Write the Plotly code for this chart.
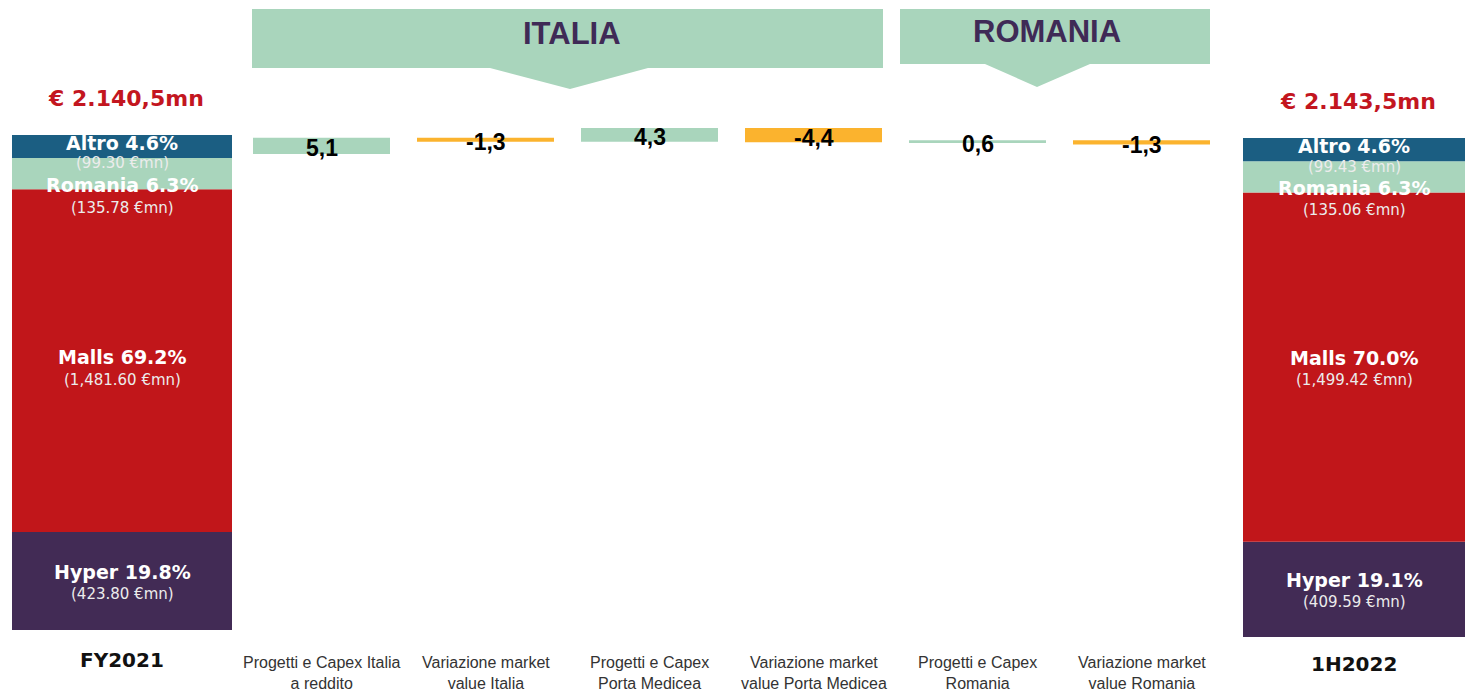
import numpy as np
import plotly.graph_objects as go

# ---------------- data ----------------
SEGMENTS = ["Hyper", "Malls", "Romania", "Altro"]
FY2021_VALUES = [423.80, 1481.60, 135.78, 99.30]
H1_2022_VALUES = [409.59, 1499.42, 135.06, 99.43]
END_CATEGORIES = ["FY2021", "1H2022"]
TOTAL_LABELS = ["€ 2.140,5mn", "€ 2.143,5mn"]
BRIDGE_CATEGORIES = [
    "Progetti e Capex Italia<br>a reddito",
    "Variazione market<br>value Italia",
    "Progetti e Capex<br>Porta Medicea",
    "Variazione market<br>value Porta Medicea",
    "Progetti e Capex<br>Romania",
    "Variazione market<br>value Romania",
]
BRIDGE_VALUES = [5.1, -1.3, 4.3, -4.4, 0.6, -1.3]
GROUP_LABELS = ["ITALIA", "ROMANIA"]

# ---------------- layout / style ----------------
W, H = 1465, 691
END_X = [122, 1354]
END_W = [220, 222]
BRIDGE_X = [321.5, 485.5, 649.5, 813.5, 977.5, 1141.5]
BRIDGE_W = 137
SEG_COLORS = ["#422b55", "#c1161a", "#a9d5bc", "#1b5e82"]
GREEN = "#a9d5bc"
ORANGE = "#fbb32e"
RED_TXT = "#c3161f"
PURPLE_TXT = "#3f2a56"
# label offsets (px) per segment: (name shift, value shift)
LABEL_SHIFTS = [
    [(9, -13), (3.5, -19.5), (-11, -34), (3, -17)],
    [(9, -13), (9.5, -12.5), (-11, -33), (4, -17)],
]


def axis_range(p0, v0, p1, v1):
    """range so that pixel p0 shows value v0 and p1 shows v1 (plot = full height)"""
    upp = (v1 - v0) / (p0 - p1)
    return [v0 - (H - p0) * upp, v0 + p0 * upp]


def paper_y(py):
    return 1 - py / H


fig = go.Figure()

end_data = [FY2021_VALUES, H1_2022_VALUES]
end_axes = ["y", "y2"]
annotations = []

for side, vals in enumerate(end_data):
    vals = np.array(vals)
    total = vals.sum()
    bases = np.concatenate([[0], np.cumsum(vals)[:-1]])
    for i, seg in enumerate(SEGMENTS):
        fig.add_trace(go.Bar(
            x=[END_X[side]], y=[vals[i]], base=[bases[i]], width=[END_W[side]],
            marker=dict(color=SEG_COLORS[i], line=dict(width=0)),
            yaxis=end_axes[side], hoverinfo="skip", showlegend=False,
        ))
        mid = bases[i] + vals[i] / 2
        pct = vals[i] / total * 100
        s_name, s_val = LABEL_SHIFTS[side][i]
        annotations.append(dict(
            x=END_X[side], y=mid, xref="x", yref=end_axes[side],
            text=f"<b>{seg} {pct:.1f}%</b>", showarrow=False, yshift=s_name,
            font=dict(family="DejaVu Sans", size=19, color="white"),
        ))
        annotations.append(dict(
            x=END_X[side], y=mid, xref="x", yref=end_axes[side],
            text=f"({vals[i]:,.2f} €mn)", showarrow=False, yshift=s_val,
            font=dict(family="DejaVu Sans", size=15, color="#ececec"),
        ))
    annotations.append(dict(
        x=END_X[side] + 4, y=total, xref="x", yref=end_axes[side],
        text=f"<b>{TOTAL_LABELS[side]}</b>", showarrow=False, yshift=37,
        font=dict(family="DejaVu Sans", size=22, color=RED_TXT),
    ))

# bridge (waterfall)
fig.add_trace(go.Waterfall(
    x=BRIDGE_X, y=BRIDGE_VALUES, measure=["relative"] * len(BRIDGE_VALUES),
    base=0, width=[BRIDGE_W] * len(BRIDGE_VALUES),
    increasing=dict(marker=dict(color=GREEN)),
    decreasing=dict(marker=dict(color=ORANGE)),
    connector=dict(visible=False), textposition="none",
    yaxis="y3", hoverinfo="skip", showlegend=False,
))
cum = np.cumsum(BRIDGE_VALUES)
mids = cum - np.array(BRIDGE_VALUES) / 2
for x, m, v in zip(BRIDGE_X, mids, BRIDGE_VALUES):
    annotations.append(dict(
        x=x, y=m, xref="x", yref="y3", showarrow=False, yshift=-2.5,
        text="<b>" + f"{v:.1f}".replace(".", ",") + "</b>",
        font=dict(family="Liberation Sans", size=23, color="black"),
    ))

# category labels
end_label_py = [660, 664]
for side, cat in enumerate(END_CATEGORIES):
    annotations.append(dict(
        x=END_X[side], y=paper_y(end_label_py[side]), xref="x", yref="paper",
        text=f"<b>{cat}</b>", showarrow=False, yanchor="middle",
        font=dict(family="DejaVu Sans", size=20, color="#111111"),
    ))
for x, cat in zip(BRIDGE_X, BRIDGE_CATEGORIES):
    annotations.append(dict(
        x=x, y=paper_y(672.5), xref="x", yref="paper",
        text=cat, showarrow=False, yanchor="middle",
        font=dict(family="Liberation Sans", size=16, color="#333333"),
    ))

# group banners
def banner_path(x0, x1, top, bottom, t0, tip, t1, tip_y):
    pts = [(x0, top), (x1, top), (x1, bottom), (t1, bottom), (tip, tip_y),
           (t0, bottom), (x0, bottom)]
    return "M " + " L ".join(f"{px},{paper_y(py)}" for px, py in pts) + " Z"

banners = [
    (252, 883, 9, 68, 490, 570, 648, 89, 572, 34),
    (900, 1210, 9, 64, 985, 1037, 1090, 87, 1047, 32),
]
shapes = []
for (x0, x1, top, bottom, t0, tip, t1, tip_y, tx, ty), lab in zip(banners, GROUP_LABELS):
    shapes.append(dict(type="path", xref="x", yref="paper",
                       path=banner_path(x0, x1, top, bottom, t0, tip, t1, tip_y),
                       fillcolor=GREEN, line=dict(width=0), layer="below"))
    annotations.append(dict(
        x=tx, y=paper_y(ty), xref="x", yref="paper", text=f"<b>{lab}</b>",
        showarrow=False, yanchor="middle",
        font=dict(family="Liberation Sans", size=31, color=PURPLE_TXT),
    ))

fig.update_layout(
    width=W, height=H, margin=dict(l=0, r=0, t=0, b=0),
    paper_bgcolor="white", plot_bgcolor="white",
    barmode="overlay", showlegend=False,
    xaxis=dict(range=[0, W], visible=False, fixedrange=True),
    yaxis=dict(range=axis_range(630, 0, 135, sum(FY2021_VALUES)), visible=False),
    yaxis2=dict(range=axis_range(637, 0, 138, sum(H1_2022_VALUES)), visible=False,
                overlaying="y"),
    yaxis3=dict(range=axis_range(154, 0, 138, 5.0), visible=False, overlaying="y"),
    annotations=annotations, shapes=shapes,
)

fig.write_html(
    "out.html",
    config={"displayModeBar": False},
    post_script="document.body.style.margin='0px';document.body.style.overflow='hidden';",
)
